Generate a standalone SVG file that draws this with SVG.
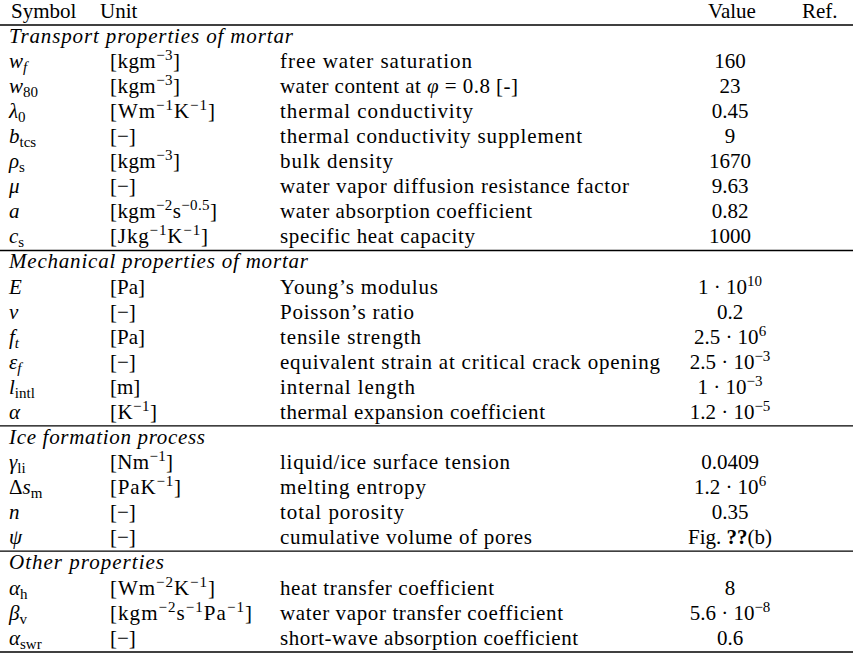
<svg xmlns="http://www.w3.org/2000/svg" width="855" height="655" viewBox="0 0 855 655" font-family="'Liberation Serif', 'DejaVu Serif', serif">
<style>
text{font-family:'Liberation Serif','DejaVu Serif',serif;font-size:21px;fill:#000}
.i{font-style:italic}
.sec{font-style:italic}
.sub{font-size:15px}
.sup{font-size:15px}
.v{text-anchor:middle}
.b{font-weight:bold}
.rule{stroke:#000;stroke-width:1.3;fill:none}
</style>
<rect width="855" height="655" fill="#fff"/>
<g id="rules">
<line class="rule" x1="0" y1="25" x2="853" y2="25"/>
<line class="rule" x1="0" y1="250.5" x2="853" y2="250.5"/>
<line class="rule" x1="0" y1="425.8" x2="853" y2="425.8"/>
<line class="rule" x1="0" y1="551.2" x2="853" y2="551.2"/>
<line class="rule" x1="0" y1="652" x2="853" y2="652"/>
</g>
<g id="header">
<text x="11" y="18">Symbol</text>
<text x="100" y="18">Unit</text>
<text class="v" x="732" y="18">Value</text>
<text x="802" y="18">Ref.</text>
</g>
<g id="sec-transport">
<text class="sec" x="9" y="42.7" textLength="284" lengthAdjust="spacing">Transport properties of mortar</text>
</g>
<g id="row-wf">
<text x="9" y="67.8"><tspan class="i">w</tspan><tspan class="sub i" dy="4">f</tspan></text>
<text x="110" y="67.8" textLength="70" lengthAdjust="spacing">[kgm<tspan class="sup" dy="-8">−3</tspan><tspan dy="8">]</tspan></text>
<text x="280" y="67.8" textLength="192" lengthAdjust="spacing">free water saturation</text>
<text class="v" x="730" y="67.8">160</text>
</g>
<g id="row-w80">
<text x="9" y="92.9"><tspan class="i">w</tspan><tspan class="sub" dy="4">80</tspan></text>
<text x="110" y="92.9" textLength="70" lengthAdjust="spacing">[kgm<tspan class="sup" dy="-8">−3</tspan><tspan dy="8">]</tspan></text>
<text x="280" y="92.9" textLength="238" lengthAdjust="spacing">water content at <tspan class="i">φ</tspan> = 0.8 [-]</text>
<text class="v" x="730" y="92.9">23</text>
</g>
<g id="row-lambda0">
<text x="9" y="117.9"><tspan class="i">λ</tspan><tspan class="sub" dy="4">0</tspan></text>
<text x="110" y="117.9" textLength="105" lengthAdjust="spacing">[Wm<tspan class="sup" dy="-8">−1</tspan><tspan dy="8">K</tspan><tspan class="sup" dy="-8">−1</tspan><tspan dy="8">]</tspan></text>
<text x="280" y="117.9" textLength="193" lengthAdjust="spacing">thermal conductivity</text>
<text class="v" x="730" y="117.9">0.45</text>
</g>
<g id="row-btcs">
<text x="9" y="143"><tspan class="i">b</tspan><tspan class="sub" dy="4">tcs</tspan></text>
<text x="110" y="143">[−]</text>
<text x="280" y="143" textLength="302" lengthAdjust="spacing">thermal conductivity supplement</text>
<text class="v" x="730" y="143">9</text>
</g>
<g id="row-rhos">
<text x="9" y="168.1"><tspan class="i">ρ</tspan><tspan class="sub" dy="4">s</tspan></text>
<text x="110" y="168.1" textLength="70" lengthAdjust="spacing">[kgm<tspan class="sup" dy="-8">−3</tspan><tspan dy="8">]</tspan></text>
<text x="280" y="168.1" textLength="113" lengthAdjust="spacing">bulk density</text>
<text class="v" x="730" y="168.1">1670</text>
</g>
<g id="row-mu">
<text x="9" y="193.2" class="i">μ</text>
<text x="110" y="193.2">[−]</text>
<text x="280" y="193.2" textLength="349" lengthAdjust="spacing">water vapor diffusion resistance factor</text>
<text class="v" x="730" y="193.2">9.63</text>
</g>
<g id="row-a">
<text x="9" y="218.3" class="i">a</text>
<text x="110" y="218.3" textLength="107" lengthAdjust="spacing">[kgm<tspan class="sup" dy="-8">−2</tspan><tspan dy="8">s</tspan><tspan class="sup" dy="-8">−0.5</tspan><tspan dy="8">]</tspan></text>
<text x="280" y="218.3" textLength="252" lengthAdjust="spacing">water absorption coefficient</text>
<text class="v" x="730" y="218.3">0.82</text>
</g>
<g id="row-cs">
<text x="9" y="243.3"><tspan class="i">c</tspan><tspan class="sub" dy="4">s</tspan></text>
<text x="110" y="243.3" textLength="98" lengthAdjust="spacing">[Jkg<tspan class="sup" dy="-8">−1</tspan><tspan dy="8">K</tspan><tspan class="sup" dy="-8">−1</tspan><tspan dy="8">]</tspan></text>
<text x="280" y="243.3" textLength="195" lengthAdjust="spacing">specific heat capacity</text>
<text class="v" x="730" y="243.3">1000</text>
</g>
<g id="sec-mechanical">
<text class="sec" x="9" y="268.4" textLength="299" lengthAdjust="spacing">Mechanical properties of mortar</text>
</g>
<g id="row-E">
<text x="9" y="293.5" class="i">E</text>
<text x="110" y="293.5">[Pa]</text>
<text x="280" y="293.5" textLength="158" lengthAdjust="spacing">Young’s modulus</text>
<text class="v" x="730" y="293.5">1 · 10<tspan class="sup" dy="-8">10</tspan></text>
</g>
<g id="row-nu">
<text x="9" y="318.6" class="i">ν</text>
<text x="110" y="318.6">[−]</text>
<text x="280" y="318.6" textLength="134" lengthAdjust="spacing">Poisson’s ratio</text>
<text class="v" x="730" y="318.6">0.2</text>
</g>
<g id="row-ft">
<text x="9" y="343.7"><tspan class="i">f</tspan><tspan class="sub i" dy="4">t</tspan></text>
<text x="110" y="343.7">[Pa]</text>
<text x="280" y="343.7" textLength="141" lengthAdjust="spacing">tensile strength</text>
<text class="v" x="730" y="343.7">2.5 · 10<tspan class="sup" dy="-8">6</tspan></text>
</g>
<g id="row-epsf">
<text x="9" y="368.7"><tspan class="i">ε</tspan><tspan class="sub i" dy="4">f</tspan></text>
<text x="110" y="368.7">[−]</text>
<text x="280" y="368.7" textLength="380" lengthAdjust="spacing">equivalent strain at critical crack opening</text>
<text class="v" x="730" y="368.7">2.5 · 10<tspan class="sup" dy="-8">−3</tspan></text>
</g>
<g id="row-lintl">
<text x="9" y="393.8"><tspan class="i">l</tspan><tspan class="sub" dy="4">intl</tspan></text>
<text x="110" y="393.8">[m]</text>
<text x="280" y="393.8" textLength="135" lengthAdjust="spacing">internal length</text>
<text class="v" x="730" y="393.8">1 · 10<tspan class="sup" dy="-8">−3</tspan></text>
</g>
<g id="row-alpha">
<text x="9" y="418.9" class="i">α</text>
<text x="110" y="418.9" textLength="47" lengthAdjust="spacing">[K<tspan class="sup" dy="-8">−1</tspan><tspan dy="8">]</tspan></text>
<text x="280" y="418.9" textLength="265" lengthAdjust="spacing">thermal expansion coefficient</text>
<text class="v" x="730" y="418.9">1.2 · 10<tspan class="sup" dy="-8">−5</tspan></text>
</g>
<g id="sec-ice">
<text class="sec" x="9" y="444" textLength="196" lengthAdjust="spacing">Ice formation process</text>
</g>
<g id="row-gammali">
<text x="9" y="469.1"><tspan class="i">γ</tspan><tspan class="sub" dy="4">li</tspan></text>
<text x="110" y="469.1" textLength="63" lengthAdjust="spacing">[Nm<tspan class="sup" dy="-8">−1</tspan><tspan dy="8">]</tspan></text>
<text x="280" y="469.1" textLength="230" lengthAdjust="spacing">liquid/ice surface tension</text>
<text class="v" x="730" y="469.1">0.0409</text>
</g>
<g id="row-dsm">
<text x="9" y="494.1">Δ<tspan class="i">s</tspan><tspan class="sub" dy="4">m</tspan></text>
<text x="110" y="494.1" textLength="71" lengthAdjust="spacing">[PaK<tspan class="sup" dy="-8">−1</tspan><tspan dy="8">]</tspan></text>
<text x="280" y="494.1" textLength="146" lengthAdjust="spacing">melting entropy</text>
<text class="v" x="730" y="494.1">1.2 · 10<tspan class="sup" dy="-8">6</tspan></text>
</g>
<g id="row-n">
<text x="9" y="519.2" class="i">n</text>
<text x="110" y="519.2">[−]</text>
<text x="280" y="519.2" textLength="124" lengthAdjust="spacing">total porosity</text>
<text class="v" x="730" y="519.2">0.35</text>
</g>
<g id="row-psi">
<text x="9" y="544.3" class="i">ψ</text>
<text x="110" y="544.3">[−]</text>
<text x="280" y="544.3" textLength="252" lengthAdjust="spacing">cumulative volume of pores</text>
<text class="v" x="730" y="544.3">Fig. <tspan class="b">??</tspan>(b)</text>
</g>
<g id="sec-other">
<text class="sec" x="9" y="569.4" textLength="155" lengthAdjust="spacing">Other properties</text>
</g>
<g id="row-alphah">
<text x="9" y="594.5"><tspan class="i">α</tspan><tspan class="sub" dy="4">h</tspan></text>
<text x="110" y="594.5" textLength="105" lengthAdjust="spacing">[Wm<tspan class="sup" dy="-8">−2</tspan><tspan dy="8">K</tspan><tspan class="sup" dy="-8">−1</tspan><tspan dy="8">]</tspan></text>
<text x="280" y="594.5" textLength="214" lengthAdjust="spacing">heat transfer coefficient</text>
<text class="v" x="730" y="594.5">8</text>
</g>
<g id="row-betav">
<text x="9" y="619.5"><tspan class="i">β</tspan><tspan class="sub" dy="4">v</tspan></text>
<text x="110" y="619.5" textLength="142" lengthAdjust="spacing">[kgm<tspan class="sup" dy="-8">−2</tspan><tspan dy="8">s</tspan><tspan class="sup" dy="-8">−1</tspan><tspan dy="8">Pa</tspan><tspan class="sup" dy="-8">−1</tspan><tspan dy="8">]</tspan></text>
<text x="280" y="619.5" textLength="283" lengthAdjust="spacing">water vapor transfer coefficient</text>
<text class="v" x="730" y="619.5">5.6 · 10<tspan class="sup" dy="-8">−8</tspan></text>
</g>
<g id="row-alphaswr">
<text x="9" y="644.6"><tspan class="i">α</tspan><tspan class="sub" dy="4">swr</tspan></text>
<text x="110" y="644.6">[−]</text>
<text x="280" y="644.6" textLength="298" lengthAdjust="spacing">short-wave absorption coefficient</text>
<text class="v" x="730" y="644.6">0.6</text>
</g>
</svg>
